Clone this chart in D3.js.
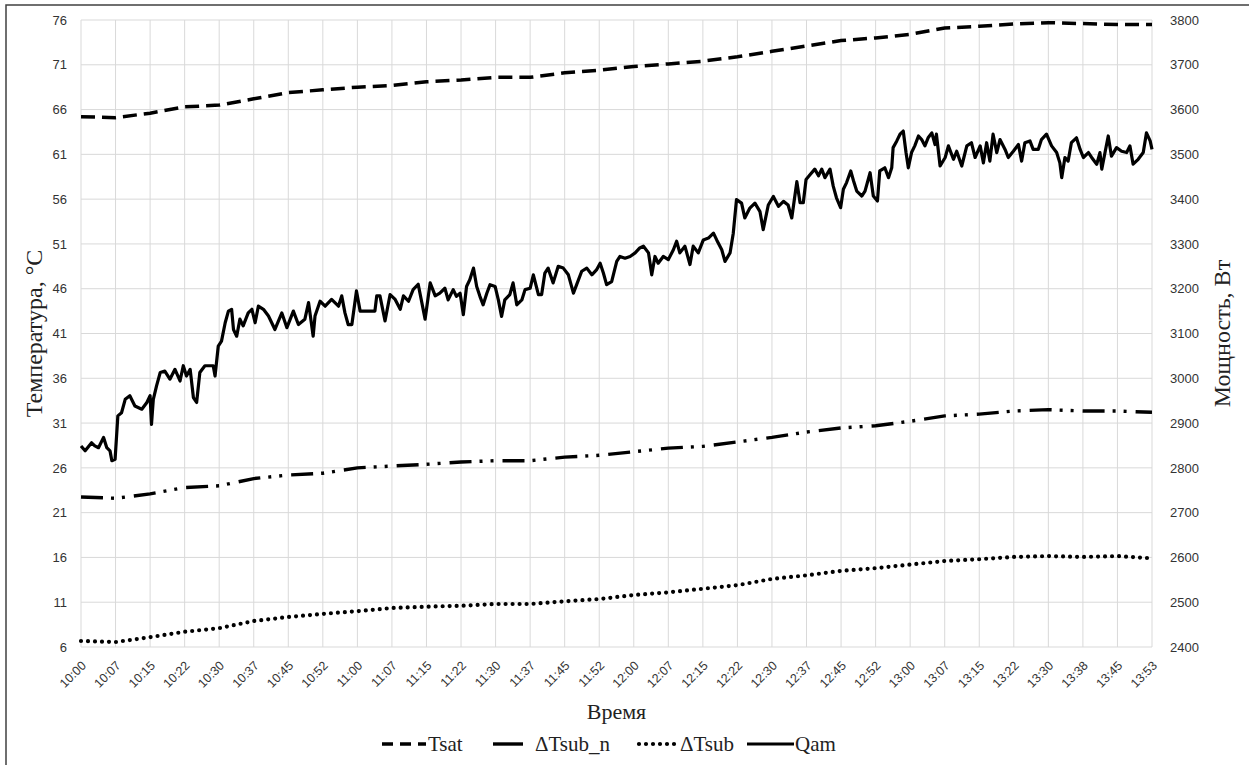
<!DOCTYPE html>
<html>
<head>
<meta charset="utf-8">
<script src="https://cdn.jsdelivr.net/npm/d3@7"></script>
<style>
  body { margin: 0; background: #fff; }
  svg { display: block; }
</style>
</head>
<body>
<svg id="chart" width="1249" height="765"></svg>
<script>
// ---- Data ----
const xTickLabels = ["10:00","10:07","10:15","10:22","10:30","10:37","10:45","10:52","11:00","11:07","11:15","11:22","11:30","11:37","11:45","11:52","12:00","12:07","12:15","12:22","12:30","12:37","12:45","12:52","13:00","13:07","13:15","13:22","13:30","13:38","13:45","13:53"];
// minutes after 10:00 at which each tick label sits (every 7.5 min)
const xTickMinutes = xTickLabels.map((d, i) => i * 7.5);

const leftTicks = [6, 11, 16, 21, 26, 31, 36, 41, 46, 51, 56, 61, 66, 71, 76];
const rightTicks = [2400, 2500, 2600, 2700, 2800, 2900, 3000, 3100, 3200, 3300, 3400, 3500, 3600, 3700, 3800];

// Temperatures sampled at tick times (°C)
const tsat = [65.2, 65.1, 65.6, 66.3, 66.5, 67.2, 67.9, 68.2, 68.5, 68.7, 69.1, 69.3, 69.6, 69.6, 70.1, 70.4, 70.8, 71.1, 71.4, 71.9, 72.5, 73.1, 73.7, 74.0, 74.4, 75.1, 75.3, 75.55, 75.7, 75.6, 75.5, 75.5];
const dTsubN = [22.75, 22.6, 23.1, 23.8, 24.0, 24.8, 25.2, 25.4, 26.0, 26.2, 26.4, 26.65, 26.8, 26.8, 27.2, 27.4, 27.8, 28.2, 28.4, 28.9, 29.4, 30.0, 30.45, 30.7, 31.2, 31.8, 32.0, 32.35, 32.5, 32.35, 32.35, 32.2];
const dTsub = [6.67, 6.55, 7.1, 7.7, 8.1, 8.9, 9.35, 9.7, 10.0, 10.35, 10.5, 10.6, 10.8, 10.8, 11.1, 11.35, 11.8, 12.1, 12.5, 12.9, 13.6, 14.0, 14.5, 14.8, 15.2, 15.6, 15.8, 16.05, 16.15, 16.05, 16.15, 15.9];

// Qam power (W): time in minutes after 10:00, value
const qamTime = [0,0.9,2.3,3.0,3.8,4.9,5.6,6.3,6.7,7.4,8.0,8.8,9.6,10.6,11.7,13.2,14.3,15.0,15.3,15.7,16.4,17.2,18.2,19.3,20.4,21.5,22.2,22.9,23.7,24.4,25.1,25.8,26.9,28.0,28.7,29.1,29.8,30.5,31.3,32.0,32.7,33.1,33.8,34.5,35.2,36.3,37.1,37.8,38.5,39.6,40.7,42.1,43.6,44.7,46.1,47.2,48.6,49.4,50.4,50.8,51.9,53.0,54.4,55.9,56.6,57.3,58.0,58.8,59.8,60.6,63.8,64.2,64.9,66.0,67.1,68.2,69.3,70.0,71.1,72.1,73.2,74.7,75.8,76.9,
  77.9,79.0,79.7,80.8,81.5,82.3,83.0,83.7,84.4,85.2,85.9,86.6,87.3,88.1,88.8,89.9,90.6,91.3,92.0,93.1,93.8,94.6,95.7,96.4,97.5,98.2,99.3,100.0,100.7,101.4,102.5,103.6,104.7,105.8,106.9,107.6,108.7,109.8,110.9,111.9,112.7,113.4,114.1,115.2,116.3,117.0,118.1,119.2,120.3,121.3,122.1,123.2,123.9,124.6,125.3,126.4,127.5,128.6,129.3,130.0,131.1,132.2,132.9,134.0,135.1,136.2,137.3,138.0,139.1,139.8,140.9,141.6,142.3,143.4,144.1,145.2,146.3,147.4,148.1,149.2,150.3,151.4,152.5,153.5,154.3,155.4,
  156.1,156.8,157.4,158.3,159.3,160.1,160.8,161.5,162.6,163.3,164.0,164.9,165.5,166.2,167.1,167.7,168.4,169.5,170.2,171.3,172.0,172.9,173.4,174.5,175.3,176.0,176.3,177.1,177.8,178.5,179.1,179.6,180.3,181.0,181.8,182.5,183.2,183.9,184.7,185.4,185.7,186.5,187.6,188.3,189.4,190.1,191.2,192.3,193.3,194.1,195.2,195.9,196.6,197.3,198.0,198.8,199.5,200.6,201.3,202.4,203.5,204.2,204.9,206.0,206.7,207.8,208.5,209.6,210.7,211.8,212.5,212.9,213.6,214.3,215.0,216.1,216.9,217.6,218.7,219.4,220.5,221.2,221.6,222.3,223.0,223.7,224.8,225.9,227.0,227.7,228.4,229.5,230.6,231.3,232.1,232.5];
const qamPower = [2849,2838,2856,2849,2845,2868,2845,2838,2816,2819,2916,2923,2953,2961,2938,2931,2946,2961,2897,2953,2983,3013,3016,2998,3020,2994,3028,3005,3020,2957,2946,3013,3028,3028,3028,3005,3072,3083,3124,3150,3154,3109,3094,3132,3117,3146,3154,3124,3161,3154,3139,3109,3146,3113,3150,3120,3132,3169,3094,3139,3172,3161,3176,3161,3184,3146,3120,3120,3195,3150,3150,3184,3184,3128,3187,3176,3154,3184,3172,3198,3210,3132,3213,3184,
  3190,3201,3175,3198,3183,3190,3142,3205,3220,3246,3205,3183,3164,3190,3209,3205,3175,3138,3175,3187,3213,3164,3175,3198,3201,3231,3187,3187,3235,3246,3213,3250,3246,3231,3190,3209,3239,3246,3231,3242,3257,3235,3209,3216,3261,3272,3268,3272,3280,3291,3295,3280,3231,3272,3257,3272,3265,3287,3306,3280,3295,3254,3295,3280,3309,3313,3324,3309,3287,3261,3280,3324,3399,3391,3358,3380,3391,3372,3332,3387,3406,3384,3395,3387,3358,3439,
  3392,3392,3444,3455,3467,3452,3467,3448,3467,3429,3403,3381,3422,3437,3463,3441,3418,3407,3418,3459,3407,3396,3463,3470,3448,3470,3515,3530,3545,3552,3504,3470,3504,3519,3541,3533,3519,3537,3548,3522,3545,3474,3493,3519,3489,3507,3474,3519,3526,3493,3519,3481,3526,3485,3545,3504,3533,3511,3493,3507,3522,3485,3526,3530,3511,3511,3533,3545,3519,3504,3481,3448,3493,3485,3526,3537,3511,3493,3504,3493,3478,3504,3467,3504,3541,3496,3515,3507,3504,3519,3478,3489,3504,3548,3530,3511];

const seriesNames = ["Tsat", "\u0394Tsub_n", "\u0394Tsub", "Qam"];

// ---- Layout ----
const svg = d3.select("#chart");
const plot = { left: 81, right: 1152, top: 20, bottom: 647 };

const x = d3.scaleLinear().domain([0, 232.5]).range([plot.left, plot.right]);
const yL = d3.scaleLinear().domain([6, 76]).range([plot.bottom, plot.top]);
const yR = d3.scaleLinear().domain([2400, 3800]).range([plot.bottom, plot.top]);

svg.append("rect").attr("width", 1249).attr("height", 765).attr("fill", "#fff");

// outer frame (only top & left visible in the reference)
svg.append("path")
  .attr("d", "M6,765 L6,5 L1249,5")
  .attr("fill", "none").attr("stroke", "#404040").attr("stroke-width", 1.5);

// gridlines
const grid = svg.append("g");
grid.selectAll("line.h").data(leftTicks).join("line")
  .attr("x1", plot.left).attr("x2", plot.right)
  .attr("y1", d => yL(d)).attr("y2", d => yL(d))
  .attr("stroke", "#d9d9d9").attr("stroke-width", 1);
grid.selectAll("line.v").data(xTickMinutes).join("line")
  .attr("y1", plot.top).attr("y2", plot.bottom)
  .attr("x1", d => x(d)).attr("x2", d => x(d))
  .attr("stroke", "#d9d9d9").attr("stroke-width", 1);

// axes (labels only)
const tickFont = "'Liberation Sans', Arial, sans-serif";
const leftAxis = svg.append("g").attr("transform", `translate(${plot.left - 14},0)`)
  .call(d3.axisLeft(yL).tickValues(leftTicks).tickSize(0).tickPadding(0).tickFormat(d3.format("d")));
const rightAxis = svg.append("g").attr("transform", `translate(${plot.right + 18},0)`)
  .call(d3.axisRight(yR).tickValues(rightTicks).tickSize(0).tickPadding(0).tickFormat(d3.format("d")));
const bottomAxis = svg.append("g").attr("transform", `translate(0,${plot.bottom})`)
  .call(d3.axisBottom(x).tickValues(xTickMinutes).tickSize(0).tickFormat((d, i) => xTickLabels[i]));
[leftAxis, rightAxis, bottomAxis].forEach(g => {
  g.select(".domain").remove();
  g.selectAll("text").attr("font-family", tickFont).attr("font-size", 13).attr("fill", "#333");
});
bottomAxis.selectAll("text")
  .attr("font-size", 12.5)
  .attr("text-anchor", "end")
  .attr("dy", null).attr("y", 0)
  .attr("transform", "translate(3,17) rotate(-45)")
  .attr("dominant-baseline", "middle");

// lines
const lineL = d3.line().x((d, i) => x(xTickMinutes[i])).y(d => yL(d));
const gLines = svg.append("g");
gLines.append("path").datum(tsat).attr("d", lineL)
  .attr("fill", "none").attr("stroke", "#000").attr("stroke-width", 3.5)
  .attr("stroke-dasharray", "14,7");
gLines.append("path").datum(dTsubN).attr("d", lineL)
  .attr("fill", "none").attr("stroke", "#000").attr("stroke-width", 3.4)
  .attr("stroke-dasharray", "22,8,3,8,3,9");
gLines.append("path").datum(dTsub).attr("d", lineL)
  .attr("fill", "none").attr("stroke", "#000").attr("stroke-width", 4.2)
  .attr("stroke-linecap", "round").attr("stroke-dasharray", "0,7");
const qamData = qamTime.map((t, i) => [t, qamPower[i]]);
gLines.append("path").datum(qamData)
  .attr("d", d3.line().x(d => x(d[0])).y(d => yR(d[1])))
  .attr("fill", "none").attr("stroke", "#000").attr("stroke-width", 3.2)
  .attr("stroke-linejoin", "round");

// titles
const serif = "'Liberation Serif', 'Times New Roman', serif";
svg.append("text").text("Температура, °С")
  .attr("transform", `translate(42,${(plot.top + plot.bottom) / 2}) rotate(-90)`)
  .attr("text-anchor", "middle").attr("font-family", serif).attr("font-size", 24).attr("fill", "#222");
svg.append("text").text("Мощность, Вт")
  .attr("transform", `translate(1230,${(plot.top + plot.bottom) / 2}) rotate(-90)`)
  .attr("text-anchor", "middle").attr("font-family", serif).attr("font-size", 24).attr("fill", "#222");
svg.append("text").text("Время")
  .attr("x", (plot.left + plot.right) / 2).attr("y", 719)
  .attr("text-anchor", "middle").attr("font-family", serif).attr("font-size", 22).attr("fill", "#222");

// legend
const legendY = 744;
const legendItems = [
  { name: seriesNames[0], x1: 382, x2: 426, tx: 428, dash: "11,7", w: 3.5, cap: "butt" },
  { name: seriesNames[1], x1: 493, x2: 533, tx: 535, dash: "30,20", w: 3.4, cap: "butt" },
  { name: seriesNames[2], x1: 639, x2: 676, tx: 680, dash: "0,7", w: 4.2, cap: "round" },
  { name: seriesNames[3], x1: 747, x2: 794, tx: 795, dash: null, w: 3.2, cap: "butt" }
];
const lg = svg.append("g");
legendItems.forEach(it => {
  lg.append("line").attr("x1", it.x1).attr("x2", it.x2).attr("y1", legendY).attr("y2", legendY)
    .attr("stroke", "#000").attr("stroke-width", it.w).attr("stroke-linecap", it.cap)
    .attr("stroke-dasharray", it.dash);
  lg.append("text").text(it.name).attr("x", it.tx).attr("y", legendY)
    .attr("dominant-baseline", "central")
    .attr("font-family", serif).attr("font-size", 21).attr("fill", "#222");
});
</script>
</body>
</html>
